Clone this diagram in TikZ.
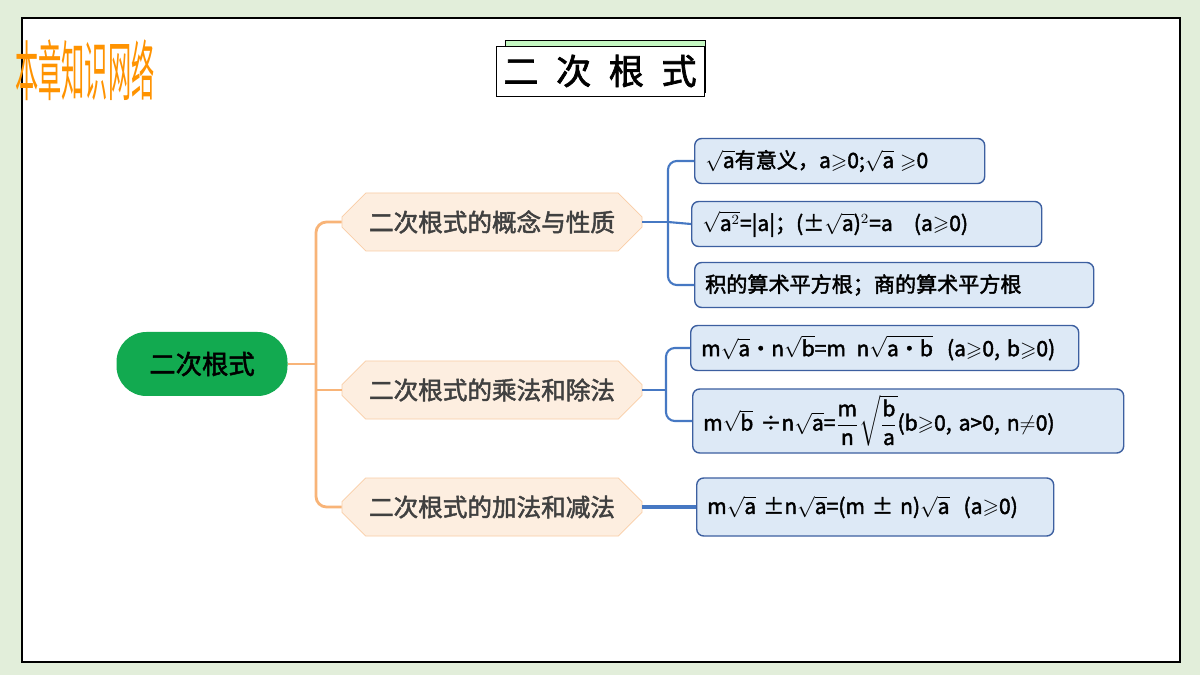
\documentclass[tikz,border=0pt]{standalone}
\usepackage{fontspec}
\usepackage{amsmath,amssymb}
\setmainfont{Noto Sans CJK SC}[AutoFakeBold=2]
\usetikzlibrary{shapes.misc}
\definecolor{bggreen}{RGB}{226,238,218}
\definecolor{rootgreen}{RGB}{18,170,80}
\definecolor{peach}{RGB}{253,238,224}
\definecolor{peachline}{RGB}{250,205,165}
\definecolor{orangeline}{RGB}{248,180,120}
\definecolor{leafblue}{RGB}{221,233,246}
\definecolor{leafline}{RGB}{60,95,160}
\definecolor{linkblue}{RGB}{70,120,195}
\newcommand{\tx}[1]{\text{#1}}
\begin{document}
\begin{tikzpicture}[x=0.02cm,y=-0.02cm,
	root/.style={rounded corners=17pt, fill=rootgreen, minimum width=171*0.02cm, minimum height=64*0.02cm, font=\fontsize{15}{15}\selectfont\bfseries},
	branch/.style={chamfered rectangle, chamfered rectangle xsep=12pt, fill=peach, draw=peachline, minimum width=300*0.02cm, minimum height=58*0.02cm, inner xsep=2pt, text=black!75, font=\fontsize{14}{14}\selectfont\bfseries},
	leaf/.style={rounded corners=4, fill=leafblue, draw=leafline, line width=0.8pt, minimum height=45*0.02cm, anchor=west, inner xsep=6pt, text width=#1*0.02cm-12pt, align=left, font=\fontsize{12}{12}\selectfont\bfseries},
	trunk/.style={orangeline, line width=1.6pt},
	twig/.style={linkblue, line width=1.2pt}]
	  \fill[bggreen] (0,0) rectangle (1200,675);
	  \draw[fill=white, line width=0.8pt] (22,18) rectangle (1180,662);
	  % title
	  \draw[fill=bggreen!70!green!60] (505,40) rectangle (705,92);
	  \node[draw, fill=white, inner xsep=0pt, minimum width=208*0.02cm, minimum height=50*0.02cm, font=\fontsize{20}{20}\selectfont\bfseries] (title) at (600,71) {二\enspace 次\enspace 根\enspace 式};
	  \node[text=orange!85!yellow, font=\fontsize{24}{24}\selectfont] (net) at (85,70) {\scalebox{0.55}[1.55]{本章知识网络}};
	  % tree
	  \node[root] (r) at (202,364) {二次根式};
	  \node[branch] (b1) at (492,222) {二次根式的概念与性质};
	  \node[branch] (b2) at (492,390) {二次根式的乘法和除法};
	  \node[branch] (b3) at (492,507) {二次根式的加法和减法};
	  \node[leaf=290] (l1) at (694,161) {$\sqrt{\tx{a}}$有意义，a$\geqslant$0;$\sqrt{\tx{a}}\geqslant$0};
	  \node[leaf=350] (l2) at (691,224) {$\sqrt{\tx{a}^2}$=|a|；(±$\sqrt{\tx{a}}$)$^2$=a\quad (a$\geqslant$0)};
	  \node[leaf=399] (l3) at (694,285) {积的算术平方根；商的算术平方根};
	  \node[leaf=388] (l4) at (690,348) {m$\sqrt{\tx{a}}$•n$\sqrt{\tx{b}}$=m\, n$\sqrt{\tx{a•b}}$\ \ (a$\geqslant$0, b$\geqslant$0)};
	  \node[leaf=431, minimum height=64*0.02cm] (l5) at (692,421) {m$\sqrt{\tx{b}}$ ÷n$\sqrt{\tx{a}}$=$\dfrac{\tx{m}}{\tx{n}}\sqrt{\dfrac{\tx{b}}{\tx{a}}}$(b$\geqslant$0, a>0, n$\neq$0)};
	  \node[leaf=357, minimum height=58*0.02cm] (l6) at (696,507) {m$\sqrt{\tx{a}}$ ±n$\sqrt{\tx{a}}$=(m ± n)$\sqrt{\tx{a}}$\ \ (a$\geqslant$0)};
	  \coordinate (j0) at (316,364);
	  \draw[trunk] (r.east) -- (j0);
	  \draw[trunk, rounded corners=6] (b1.west) -| (j0) |- (b3.west);
	  \draw[trunk] (j0) |- (b2.west);
	  \coordinate (j1) at (668,222);
	  \draw[twig] (b1.east) -- (j1);
	  \draw[twig, rounded corners=5] (l1.west) -| (j1) |- (l3.west);
	  \draw[twig] (j1) -- (l2.west);
	  \coordinate (j2) at (666,390);
	  \draw[twig] (b2.east) -- (j2);
	  \draw[twig, rounded corners=5] (l4.west) -| (j2) |- (l5.west);
	  \draw[twig, line width=2pt] (b3.east) -- (l6.west);
\end{tikzpicture}
\end{document}
